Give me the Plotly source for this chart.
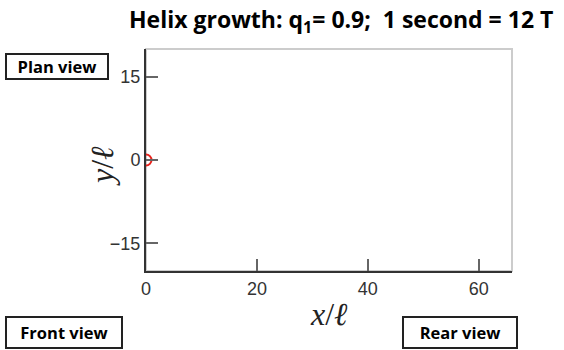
import plotly.graph_objects as go

# data
x_pos = [0]
y_pos = [0]
x_ticks = [0, 20, 40, 60]
y_ticks = [-15, 0, 15]
x_range = [0, 66]
y_range = [-20, 20]
title_text = "Helix growth: q<sub>1</sub>= 0.9;  1 second = 12 T"

L, R, T, B = 146, 52, 49, 79
W, H = 564, 350
pw, ph = W - L - R, H - T - B

def px(x):
    return (x - L) / pw

def py(y):
    return (H - B - y) / ph

fig = go.Figure()
fig.add_trace(go.Scatter(
    x=x_pos, y=y_pos, mode="markers",
    marker=dict(symbol="circle-open", size=11, color="#e8231c", line=dict(width=2, color="#e8231c")),
    cliponaxis=True, showlegend=False, hoverinfo="skip"))

tickfont = dict(family="Liberation Sans, Arial, sans-serif", size=18, color="#333333")
fig.update_layout(
    width=W, height=H, margin=dict(l=L, r=R, t=T, b=B, autoexpand=False),
    paper_bgcolor="white", plot_bgcolor="white",
    xaxis=dict(range=x_range, tickvals=x_ticks, ticks="inside", ticklen=12, tickwidth=1.5,
               tickcolor="#666666", showgrid=False, zeroline=False, showline=True,
               linecolor="#333333", linewidth=2, tickfont=tickfont, layer="above traces"),
    yaxis=dict(range=y_range, tickvals=y_ticks, ticks="inside", ticklen=12, tickwidth=1.5,
               tickcolor="#666666", showgrid=False, zeroline=False, showline=True,
               linecolor="#333333", linewidth=2, tickfont=tickfont, layer="above traces"),
    shapes=[dict(type="rect", xref="paper", yref="paper", x0=0, x1=1, y0=0, y1=1,
                 line=dict(color="#cccccc", width=2), layer="below")],
)

boxfont = dict(family="Open Sans, Liberation Sans, sans-serif", size=16.5, color="black")
ann = [
    dict(text="<b>" + title_text + "</b>", x=px(341), y=py(21), xref="paper", yref="paper",
         showarrow=False, xanchor="center", yanchor="middle",
         font=dict(family="Open Sans, Liberation Sans, sans-serif", size=23, color="black")),
    dict(text="<b>Plan view</b>", x=px(57), y=py(67), width=100, height=23),
    dict(text="<b>Front view</b>", x=px(64), y=py(332), width=114, height=29),
    dict(text="<b>Rear view</b>", x=px(460), y=py(332), width=112, height=29),
]
for a in ann[1:]:
    a.update(xref="paper", yref="paper", showarrow=False, xanchor="center", yanchor="middle",
             font=boxfont, bordercolor="#222222", borderwidth=2, borderpad=0, bgcolor="white")
ann += [
    dict(text="<i>y</i>/<i>ℓ</i>", x=px(102), y=py(166), textangle=-90,
         xref="paper", yref="paper", showarrow=False, xanchor="center", yanchor="middle",
         font=dict(family="Liberation Serif, DejaVu Serif, serif", size=32, color="#222222")),
    dict(text="<i>x</i>/<i>ℓ</i>", x=px(329), y=py(314),
         xref="paper", yref="paper", showarrow=False, xanchor="center", yanchor="middle",
         font=dict(family="Liberation Serif, DejaVu Serif, serif", size=32, color="#222222")),
]
fig.update_layout(annotations=ann)
fig.write_html("out.html", config={"displayModeBar": False},
               post_script="document.body.style.margin='0px';")
